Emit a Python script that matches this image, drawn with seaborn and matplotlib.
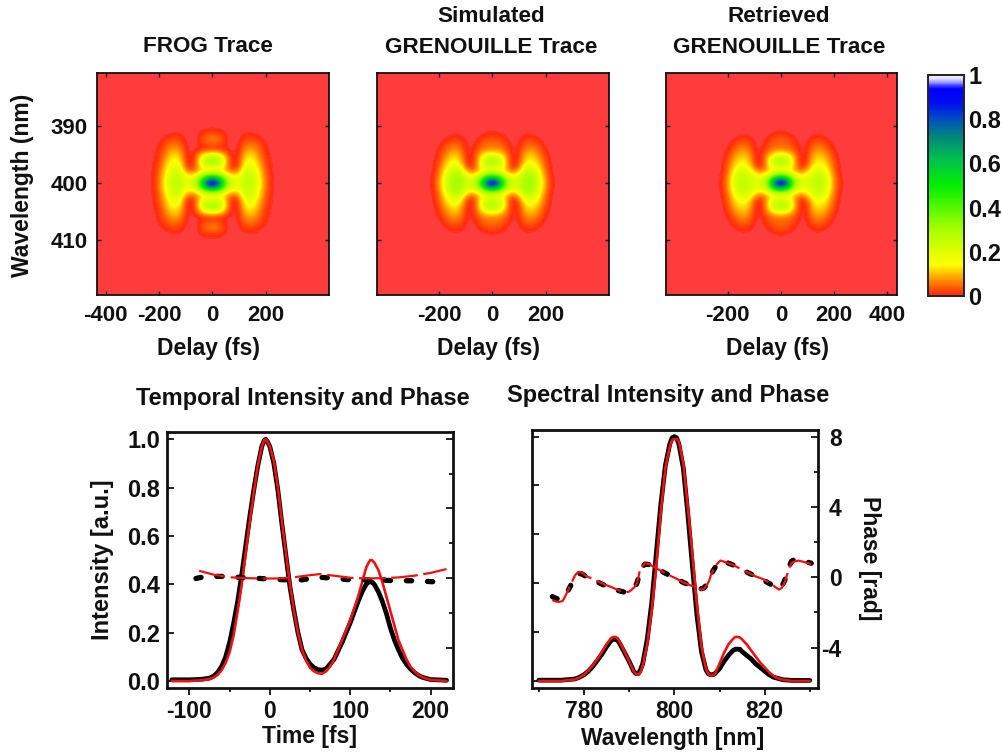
import numpy as np
import pandas as pd
import matplotlib
matplotlib.use("Agg")
import matplotlib.pyplot as plt
from matplotlib.colors import LinearSegmentedColormap, Normalize
from matplotlib.cm import ScalarMappable
from matplotlib.ticker import FixedLocator, NullFormatter
import seaborn as sns

# trace values: one quadrant, rows = nm away from 400, columns = fs away from 0
frog_quadrant = [
    [1.00, .88, .55, .30, .21, .20, .25, .27, .22, .14, .05, .005, 0],
    [.62, .55, .38, .22, .17, .17, .24, .26, .20, .13, .05, .01, 0],
    [.13, .13, .11, .07, .05, .09, .20, .23, .18, .11, .04, .005, 0],
    [.20, .20, .16, .05, 0, .03, .15, .19, .15, .09, .03, .005, 0],
    [.35, .30, .20, .05, 0, .02, .12, .15, .13, .07, .02, .003, 0],
    [.18, .16, .11, .03, 0, .015, .09, .12, .10, .05, .015, .002, 0],
    [.005, .005, .003, 0, 0, .01, .06, .08, .07, .035, .01, 0, 0],
    [.045, .04, .02, 0, 0, .005, .035, .05, .04, .02, .005, 0, 0],
    [.06, .055, .025, 0, 0, 0, .015, .02, .015, .005, 0, 0, 0],
    [.012, .012, .005, 0, 0, 0, 0, 0, 0, 0, 0, 0, 0],
    [0, 0, 0, 0, 0, 0, 0, 0, 0, 0, 0, 0, 0],
]
simulated_quadrant = [
    [1.00, .86, .53, .30, .23, .24, .30, .32, .27, .17, .08, .015, 0],
    [.60, .53, .36, .23, .18, .22, .29, .31, .26, .16, .07, .01, 0],
    [.17, .16, .13, .08, .06, .12, .23, .27, .21, .13, .05, .005, 0],
    [.24, .22, .17, .05, 0, .04, .15, .19, .16, .10, .04, .003, 0],
    [.31, .27, .18, .05, 0, .02, .10, .14, .12, .08, .025, 0, 0],
    [.17, .15, .11, .04, 0, .015, .08, .11, .09, .05, .015, 0, 0],
    [.06, .06, .05, .02, 0, .01, .05, .07, .06, .03, .005, 0, 0],
    [.05, .05, .035, .008, 0, .005, .03, .04, .03, .012, 0, 0, 0],
    [.025, .02, .01, 0, 0, 0, .01, .012, .008, 0, 0, 0, 0],
    [.005, 0, 0, 0, 0, 0, 0, 0, 0, 0, 0, 0, 0],
    [0, 0, 0, 0, 0, 0, 0, 0, 0, 0, 0, 0, 0],
]
retrieved_quadrant = [
    [1.00, .88, .52, .28, .21, .21, .24, .27, .25, .17, .07, .015, 0],
    [.60, .53, .34, .22, .18, .19, .23, .26, .24, .16, .07, .01, 0],
    [.15, .14, .12, .08, .07, .12, .19, .22, .20, .13, .05, .005, 0],
    [.22, .20, .15, .05, 0, .04, .13, .16, .15, .10, .04, .003, 0],
    [.33, .28, .18, .05, 0, .02, .10, .13, .12, .08, .03, 0, 0],
    [.17, .15, .10, .04, 0, .015, .08, .10, .09, .055, .015, 0, 0],
    [.05, .05, .04, .015, 0, .01, .05, .07, .06, .03, .005, 0, 0],
    [.045, .045, .03, .008, 0, .005, .03, .04, .03, .012, 0, 0, 0],
    [.03, .025, .012, 0, 0, 0, .008, .012, .006, 0, 0, 0, 0],
    [.008, 0, 0, 0, 0, 0, 0, 0, 0, 0, 0, 0, 0],
    [0, 0, 0, 0, 0, 0, 0, 0, 0, 0, 0, 0, 0],
]

# temporal intensity
time_fs = [-122, -100, -85, -75, -70, -65, -60, -55, -50, -45, -40, -35, -30, -25, -20, -15, -10, -7, -5, -3, 0,
           5, 10, 15, 20, 25, 30, 35, 40, 45, 50, 55, 60, 65, 70, 75, 80, 85, 90, 95, 100, 105, 110, 115, 120,
           123, 125, 127, 130, 135, 140, 145, 150, 155, 160, 165, 170, 175, 180, 185, 190, 200, 220]
int_meas = [.005, .005, .007, .012, .02, .035, .06, .10, .16, .24, .33, .44, .56, .68, .79, .89, .97, .995, 1, .99,
            .97, .90, .79, .65, .52, .39, .29, .20, .13, .095, .07, .055, .047, .045, .05, .07, .09, .125, .16, .20,
            .24, .285, .33, .37, .40, .41, .41, .41, .40, .37, .33, .28, .22, .17, .13, .095, .07, .05, .035, .023,
            .015, .006, .003]
int_ret = [0, 0, .003, .008, .015, .025, .045, .075, .12, .19, .29, .40, .53, .66, .78, .89, .97, .995, 1, .99,
           .97, .91, .80, .66, .53, .40, .29, .20, .13, .085, .055, .04, .032, .03, .04, .06, .09, .13, .17, .21,
           .25, .30, .35, .41, .47, .49, .50, .50, .49, .46, .41, .35, .29, .23, .17, .13, .09, .06, .04, .025,
           .015, .005, 0]

# temporal phase
tphase_meas_t = [-92, -80, -60, -40, -20, 0, 20, 40, 60, 80, 100, 120, 140, 160, 180, 200, 218]
tphase_meas = [-.02, .1, .1, .05, 0, -.05, -.1, -.1, .05, 0, -.1, -.1, -.12, -.15, -.15, -.2, -.23]
tphase_ret_t = [-88, -70, -50, -30, -10, 10, 30, 50, 62, 80, 100, 120, 140, 160, 180, 200, 220]
tphase_ret = [.42, .2, .05, 0, -.02, -.02, .05, .17, .23, .14, .02, -.02, 0, .04, .14, .3, .52]

# spectral intensity
wl_nm = [770, 775, 778, 779, 780, 781, 782, 783, 784, 785, 786, 786.5, 787, 787.5, 788, 789, 790, 791, 791.5, 792,
         792.5, 793, 794, 795, 796, 797, 798, 799, 799.5, 800, 800.5, 801, 802, 803, 804, 805, 806, 807, 807.5, 808,
         808.5, 809, 810, 811, 812, 813, 813.5, 814, 814.5, 815, 816, 817, 818, 819, 820, 821, 822, 823, 824, 826,
         830]
spec_meas = [.003, .003, .008, .015, .025, .04, .06, .085, .11, .14, .165, .17, .17, .165, .15, .115, .08, .04, .03,
             .03, .045, .07, .17, .32, .52, .72, .88, .97, .995, 1.0, .995, .97, .87, .68, .47, .27, .12, .045, .03,
             .025, .025, .03, .05, .08, .105, .125, .13, .13, .13, .12, .105, .09, .07, .055, .04, .025, .015, .01,
             .005, .002, .002]
spec_ret = [0, 0, .006, .014, .025, .043, .065, .09, .12, .15, .175, .18, .18, .175, .155, .12, .08, .04, .028,
            .025, .035, .06, .15, .29, .47, .69, .87, .96, .985, .99, .99, .98, .89, .71, .52, .31, .14, .05, .03,
            .022, .022, .03, .07, .115, .15, .172, .18, .18, .178, .17, .15, .125, .10, .075, .055, .035, .02, .01,
            .005, 0, 0]

# spectral phase
sphase_wl = [773, 773.8, 774.5, 775.3, 776, 777, 778, 778.7, 779.5, 780.4, 782, 783.6, 785, 786, 787.5, 789, 790,
             790.6, 791.2, 791.7, 792.1, 792.4, 793, 793.5, 794.5, 795.4, 797.5, 799.4, 800.5, 802, 803.5, 805, 806,
             806.6, 807.2, 807.7, 808.2, 809, 809.6, 810.2, 811.5, 813, 816, 818, 819.6, 821, 822.6, 823.2, 823.8,
             824.4, 824.9, 825.4, 825.9, 826.5, 827.5, 829, 830.3]
sphase_meas = [-1.1, -1.2, -1.25, -1.2, -1.0, -.5, 0, .2, .2, .05, -.12, -.35, -.5, -.6, -.75, -.85, -.82, -.7, -.55,
               -.35, 0, .4, .6, .75, .72, .6, .3, .05, -.08, -.3, -.45, -.6, -.65, -.6, -.4, -.15, .2, .55, .75, .9,
               .85, .7, .3, .05, -.15, -.35, -.6, -.65, -.5, -.2, .2, .6, .9, 1.0, 1.0, .9, .8]
sphase_ret = [-1.3, -1.38, -1.4, -1.35, -1.0, -.45, .1, .3, .28, .08, -.1, -.3, -.45, -.55, -.72, -.85, -.82, -.7,
              -.55, -.35, .05, .45, .65, .8, .75, .6, .3, .05, -.08, -.3, -.45, -.6, -.7, -.65, -.45, -.2, .2, .6,
              .8, .95, .85, .7, .3, .05, -.1, -.3, -.6, -.7, -.6, -.3, .1, .5, .8, .9, .95, .85, .75]

trace_titles = ["FROG Trace", "Simulated\nGRENOUILLE Trace", "Retrieved\nGRENOUILLE Trace"]
bar_ticks = [0, .2, .4, .6, .8, 1]
bar_labels = ["0", "0.2", "0.4", "0.6", "0.8", "1"]

sns.set_theme(style="white")
plt.rcParams["font.family"] = ["Liberation Sans", "DejaVu Sans"]
plt.rcParams["font.weight"] = "bold"
plt.rcParams["axes.unicode_minus"] = False

W, H = 1003, 752
fig = plt.figure(figsize=(W / 100, H / 100), dpi=100, facecolor="white")
INK = "#111111"


def box(l, t, r, b):
    return fig.add_axes([l / W, 1 - b / H, (r - l) / W, (b - t) / H])


def label(x, y, s, size=16, **kw):
    fig.text(x / W, 1 - y / H, s, fontsize=size, fontweight="bold", color=INK,
             ha="center", va="center", **kw)


cmap = LinearSegmentedColormap.from_list("frog", [
    (0, "#ff3c3c"), (.006, "#ff2a0c"), (.07, "#ff9000"), (.14, "#ffff00"), (.3, "#a8ff00"), (.5, "#00f000"),
    (.62, "#00c050"), (.72, "#008878"), (.8, "#0050c0"), (.87, "#0010f0"), (.94, "#0000ff"), (.985, "#e8e8ff"),
    (1, "#e8e8ff")])
norm = Normalize(0, 1)


def full_grid(quadrant):
    q = np.array(quadrant, dtype=float)
    grid = np.zeros((41, 45))
    grid[20:31, 22:35] = q
    grid[20:31, 10:23] = q[:, ::-1]
    grid[10:21, :] = grid[30:19:-1, :]
    return grid


trace_boxes = [(97, 73, 329, 295), (377, 73, 609, 295), (666, 73, 897, 295)]
trace_xticks = [[-400, -200, 0, 200], [-200, 0, 200], [-200, 0, 200, 400]]
trace_data = [frog_quadrant, simulated_quadrant, retrieved_quadrant]

for i, (b, quadrant) in enumerate(zip(trace_boxes, trace_data)):
    ax = box(*b)
    ax.imshow(full_grid(quadrant), cmap=cmap, norm=norm, extent=[-450, 450, 420.5, 379.5],
              aspect="auto", interpolation="bicubic")
    ax.set_xlim(-433, 437)
    ax.set_ylim(419.6, 380.7)
    ax.set_xticks(trace_xticks[i])
    ax.set_yticks([390, 400, 410])
    ax.tick_params(axis="both", which="major", direction="in", length=3, width=1, color=INK,
                   top=True, right=True, bottom=True, left=True,
                   labelsize=16, labelcolor=INK, pad=7)
    if i > 0:
        ax.set_yticklabels([])
    for s in ax.spines.values():
        s.set_linewidth(1.3)
        s.set_color(INK)
    label((b[0] + b[2]) / 2 - 4, 348, "Delay (fs)", 16.5)

label(208, 47, trace_titles[0], 16.2)
label(491, 32, trace_titles[1], 16.2, linespacing=1.6)
label(779, 32, trace_titles[2], 16.2, linespacing=1.6)
label(23, 185, "Wavelength (nm)", 16.5, rotation=90)

# colour bar
cax = box(928, 75, 964, 296)
cb = fig.colorbar(ScalarMappable(norm=norm, cmap=cmap), cax=cax)
cb.set_ticks(bar_ticks)
cb.set_ticklabels(bar_labels)
cax.tick_params(direction="in", length=3, width=1.2, left=True, right=True, labelsize=17, pad=3, color=INK,
                labelcolor=INK)
cb.outline.set_linewidth(1.4)
cb.outline.set_edgecolor("#222222")

# lower panels
dash_black = (0, (1.0, 3.0))
dash_red = (0, (12, 2.5))


def curves(ax, x, meas, ret):
    sns.lineplot(x=x, y=meas, ax=ax, color="black", lw=3.4, errorbar=None)
    sns.lineplot(x=x, y=ret, ax=ax, color="#ee1111", lw=1.9, errorbar=None)


def phase_lines(tw, x_meas, meas, x_ret, ret):
    sns.lineplot(x=x_meas, y=meas, ax=tw, color="black", lw=3.8, linestyle=dash_black,
                 dash_capstyle="round", errorbar=None)
    sns.lineplot(x=x_ret, y=ret, ax=tw, color="#ee1111", lw=1.6, linestyle=dash_red, errorbar=None)


def phase_axis(ax, labelled):
    tw = ax.twinx()
    tw.set_ylim(-6.3, 8.38)
    tw.yaxis.set_major_locator(FixedLocator([-4, 0, 4, 8]))
    tw.yaxis.set_minor_locator(FixedLocator([-2, 2, 6]))
    tw.yaxis.set_minor_formatter(NullFormatter())
    tw.tick_params(axis="y", which="major", direction="in", length=5, width=1.3, right=True,
                   labelright=labelled, labelsize=16.5, pad=17, color=INK, labelcolor=INK)
    tw.tick_params(axis="y", which="minor", direction="in", length=3, width=1.3, right=True, color=INK)
    for t in tw.get_yticklabels():
        t.set_ha("right")
    return tw


def finish(ax, tw):
    for s in ["left", "right", "top", "bottom"]:
        ax.spines[s].set_linewidth(2)
        ax.spines[s].set_color(INK)
        tw.spines[s].set_visible(False)
    ax.set_xlabel("")
    ax.set_ylabel("")
    tw.set_xlabel("")
    tw.set_ylabel("")


def style_lower(ax, minor):
    ax.set_xticks(minor, minor=True)
    ax.set_yticks([0, .2, .4, .6, .8, 1.0])
    ax.tick_params(axis="x", which="major", direction="out", length=5, width=1.3, bottom=True,
                   labelsize=16.5, pad=4, color=INK, labelcolor=INK)
    ax.tick_params(axis="x", which="minor", direction="out", length=3, width=1.3, bottom=True, color=INK)
    ax.tick_params(axis="y", which="major", direction="in", length=5, width=1.3, left=True,
                   labelsize=17, pad=5, color=INK, labelcolor=INK)


ax1 = box(167, 432, 453, 688)
curves(ax1, time_fs, int_meas, int_ret)
ax1.set_xlim(-128, 228)
ax1.set_ylim(-.029, 1.03)
ax1.set_xticks([-100, 0, 100, 200])
style_lower(ax1, [-50, 50, 150])
tw1 = phase_axis(ax1, False)
phase_lines(tw1, tphase_meas_t, tphase_meas, tphase_ret_t, tphase_ret)
finish(ax1, tw1)

ax2 = box(532, 430, 818, 688)
curves(ax2, wl_nm, spec_meas, spec_ret)
ax2.set_xlim(768.5, 831.8)
ax2.set_ylim(-.029, 1.027)
ax2.set_xticks([780, 800, 820])
style_lower(ax2, [770, 790, 810, 830])
ax2.set_yticklabels([])
tw2 = phase_axis(ax2, True)
phase_lines(tw2, sphase_wl, sphase_meas, sphase_wl, sphase_ret)
finish(ax2, tw2)

label(303, 398, "Temporal Intensity and Phase", 17)
label(668, 396, "Spectral Intensity and Phase", 17)
label(103, 560, "Intensity [a.u.]", 17, rotation=90)
label(310, 737, "Time [fs]", 16.5)
label(673, 738, "Wavelength [nm]", 16.5)
label(870, 558, "Phase [rad]", 16.5, rotation=270)

fig.savefig("out.png", dpi=100)
